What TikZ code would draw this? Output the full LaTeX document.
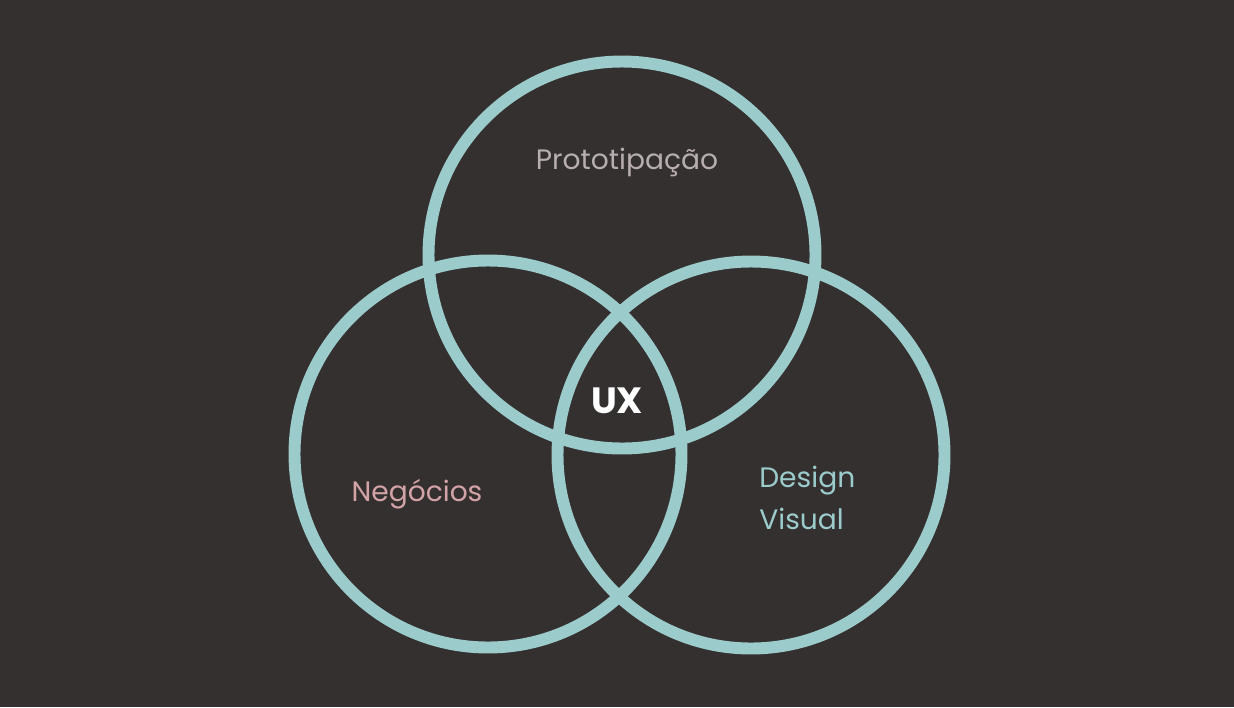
\documentclass[tikz,border=0pt]{standalone}
\usepackage{fontspec}
\setmainfont{Poppins}
\usepackage{tikz}

\definecolor{bgdark}{HTML}{353030}
\definecolor{ringteal}{HTML}{9BCBCB}
\definecolor{protogray}{HTML}{B7AEAE}
\definecolor{negpink}{HTML}{D3A4A7}

\tikzset{
  ring/.style={draw=ringteal, line width=6.8pt},
  label/.style={font=\fontsize{16}{23.5}\selectfont, inner sep=0pt}
}

\begin{document}
\begin{tikzpicture}[x=0.02cm, y=-0.02cm]

        % background
            \fill[bgdark] (0,0) rectangle (1234,707);
            \useasboundingbox (0,0) rectangle (1234,707);

        % three circles
            \draw[ring] (622,255) circle (193.5);
            \draw[ring] (488,454) circle (193.5);
            \draw[ring] (751,455) circle (193.5);

        % labels
            \node[label, text=protogray] (proto) at (627,162) {Prototipação};
            \node[label, text=negpink] (neg) at (417,494) {Negócios};
            \node[label, text=ringteal, align=left, anchor=west] (design) at (759,498) {Design\\Visual};
            \node[font=\fontsize{20.8}{21}\selectfont\bfseries, text=white, inner sep=0pt] (ux) at (617,401) {UX};

\end{tikzpicture}
\end{document}
